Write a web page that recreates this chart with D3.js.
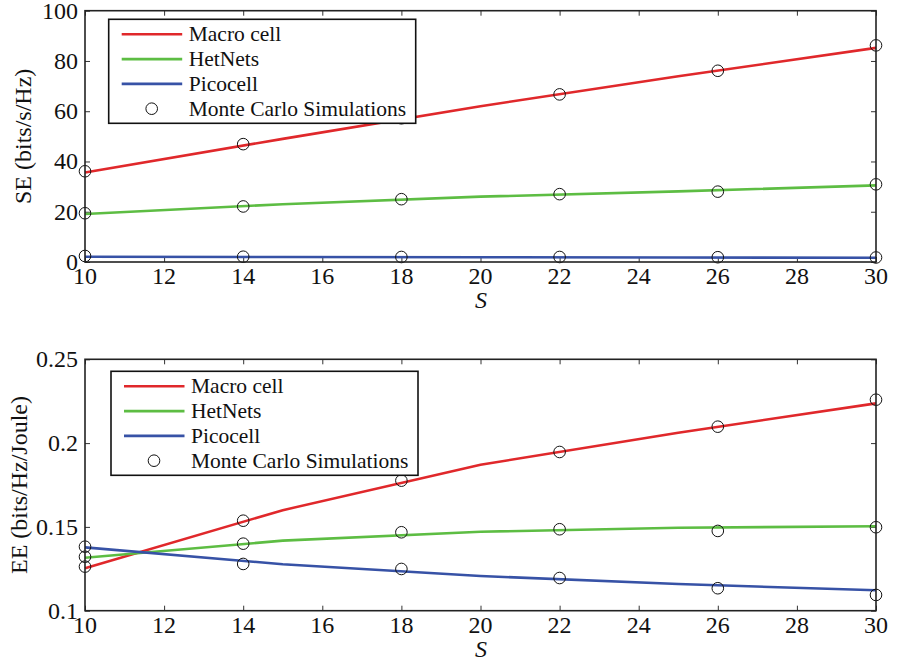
<!DOCTYPE html>
<html>
<head>
<meta charset="utf-8">
<script src="https://cdn.jsdelivr.net/npm/d3@7"></script>
<style>
  body { margin: 0; background: #fff; }
</style>
</head>
<body>
<svg id="chart" width="897" height="664" font-family="'Liberation Serif', 'DejaVu Serif', serif"></svg>
<script>
// S values where the analytic curves are evaluated, and where the simulations sit
const sCurve = [10, 15, 20, 25, 30];
const sSim = [10, 14, 18, 22, 26, 30];
const xTicks = [10, 12, 14, 16, 18, 20, 22, 24, 26, 28, 30];

const seMacro = [35.6, 49.0, 62.0, 73.9, 85.2];
const seHetNets = [19.1, 23.0, 26.0, 28.1, 30.5];
const sePico = [2.1, 2.0, 1.9, 1.8, 1.7];
const seMacroSim = [36.1, 46.9, 57.2, 66.7, 76.1, 86.2];
const seHetNetsSim = [19.4, 22.1, 25.0, 27.0, 28.0, 30.9];
const sePicoSim = [2.4, 2.1, 2.0, 2.0, 1.9, 1.8];
const seTicks = [0, 20, 40, 60, 80, 100];

const eeMacro = [0.1253, 0.16, 0.1871, 0.2062, 0.2237];
const eeHetNets = [0.1316, 0.1418, 0.1471, 0.1495, 0.1504];
const eePico = [0.1378, 0.1277, 0.1207, 0.1159, 0.1122];
const eeMacroSim = [0.1263, 0.1537, 0.1776, 0.1947, 0.2098, 0.2259];
const eeHetNetsSim = [0.1322, 0.14, 0.1468, 0.1486, 0.1476, 0.1498];
const eePicoSim = [0.1382, 0.1279, 0.1249, 0.1195, 0.1134, 0.1094];
const eeTicks = [0.1, 0.15, 0.2, 0.25];

const seriesNames = ["Macro cell", "HetNets", "Picocell"];
const simName = "Monte Carlo Simulations";
const colors = ["#e0282b", "#5dbd43", "#3752a6"];
const serif = "'Liberation Serif', 'DejaVu Serif', serif";

const svg = d3.select("#chart");

function addText(parent, size) {
  return parent.append("text")
    .attr("font-family", serif)
    .attr("font-size", size)
    .attr("fill", "#111");
}

function drawPanel(opts) {
  const g = svg.append("g");
  const x = d3.scaleLinear().domain([10, 30]).range([85, 876]);
  const y = d3.scaleLinear().domain(opts.yDomain).range(opts.yRange);
  const top = opts.yRange[1];
  const bottom = opts.yRange[0];

  // inward ticks on all four sides
  g.append("g")
    .attr("transform", `translate(0,${bottom})`)
    .call(d3.axisTop(x).tickValues(xTicks).tickSize(5).tickFormat(""));
  g.append("g")
    .attr("transform", `translate(0,${top})`)
    .call(d3.axisBottom(x).tickValues(xTicks).tickSize(5).tickFormat(""));
  g.append("g")
    .attr("transform", `translate(85,0)`)
    .call(d3.axisRight(y).tickValues(opts.yTicks).tickSize(5).tickFormat(""));
  g.append("g")
    .attr("transform", `translate(876,0)`)
    .call(d3.axisLeft(y).tickValues(opts.yTicks).tickSize(5).tickFormat(""));
  g.selectAll(".domain").remove();
  g.selectAll(".tick line").attr("stroke", "#333").attr("stroke-width", 1);

  // tick labels
  xTicks.forEach((d) => {
    addText(g, 24)
      .attr("x", x(d))
      .attr("y", bottom + 22)
      .attr("text-anchor", "middle")
      .text(d);
  });
  opts.yTicks.forEach((d) => {
    addText(g, 24)
      .attr("x", 78)
      .attr("y", y(d) + 8)
      .attr("text-anchor", "end")
      .text(opts.yFormat(d));
  });

  // curves
  const line = d3.line()
    .x((d, i) => x(sCurve[i]))
    .y((d) => y(d));
  opts.curves.forEach((vals, i) => {
    g.append("path")
      .datum(vals)
      .attr("fill", "none")
      .attr("stroke", colors[i])
      .attr("stroke-width", 2.6)
      .attr("d", line);
  });

  // simulation markers
  opts.sims.forEach((vals) => {
    g.append("g")
      .selectAll("circle")
      .data(vals)
      .join("circle")
      .attr("cx", (d, i) => x(sSim[i]))
      .attr("cy", (d) => y(d))
      .attr("r", 5.8)
      .attr("fill", "none")
      .attr("stroke", "#111")
      .attr("stroke-width", 1);
  });

  // frame
  g.append("rect")
    .attr("x", 85)
    .attr("y", top)
    .attr("width", 876 - 85)
    .attr("height", bottom - top)
    .attr("fill", "none")
    .attr("stroke", "#222")
    .attr("stroke-width", 1.6);

  // axis titles
  addText(g, 24)
    .attr("x", 481)
    .attr("y", bottom + 46)
    .attr("text-anchor", "middle")
    .attr("font-style", "italic")
    .text("S");
  addText(g, 24)
    .attr("transform", `translate(${opts.yTitleX},${(top + bottom) / 2}) rotate(-90)`)
    .attr("text-anchor", "middle")
    .text(opts.yTitle);

  // legend
  const lg = g.append("g").attr("transform", `translate(${opts.legend[0]},${opts.legend[1]})`);
  lg.append("rect")
    .attr("width", 307)
    .attr("height", 104)
    .attr("fill", "#fff")
    .attr("stroke", "#111")
    .attr("stroke-width", 1.6);
  const rows = seriesNames.concat([simName]);
  rows.forEach((name, i) => {
    const ry = 15 + i * 24.8;
    if (i < 3) {
      lg.append("line")
        .attr("x1", 13).attr("x2", 73.5)
        .attr("y1", ry).attr("y2", ry)
        .attr("stroke", colors[i])
        .attr("stroke-width", 2.6);
    } else {
      lg.append("circle")
        .attr("cx", 43).attr("cy", ry)
        .attr("r", 5.8)
        .attr("fill", "none")
        .attr("stroke", "#111")
        .attr("stroke-width", 1);
    }
    addText(lg, 21.5)
      .attr("x", 80)
      .attr("y", ry + 7)
      .text(name);
  });
}

drawPanel({
  yDomain: [0, 100],
  yRange: [262, 10.7],
  yTicks: seTicks,
  yFormat: (d) => d,
  curves: [seMacro, seHetNets, sePico],
  sims: [seMacroSim, seHetNetsSim, sePicoSim],
  yTitle: "SE (bits/s/Hz)",
  yTitleX: 31,
  legend: [108.7, 19.3],
});

drawPanel({
  yDomain: [0.1, 0.25],
  yRange: [610.7, 359.3],
  yTicks: eeTicks,
  yFormat: (d) => d3.format("")(d),
  curves: [eeMacro, eeHetNets, eePico],
  sims: [eeMacroSim, eeHetNetsSim, eePicoSim],
  yTitle: "EE (bits/Hz/Joule)",
  yTitleX: 27,
  legend: [111, 371.3],
});
</script>
</body>
</html>
